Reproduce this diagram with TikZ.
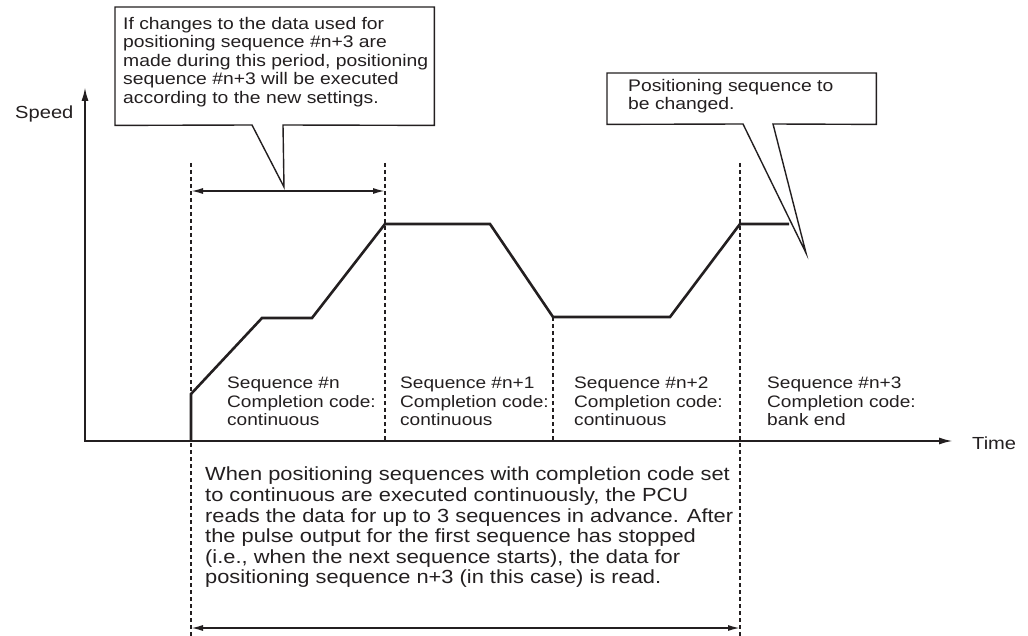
\documentclass[tikz,border=0pt]{standalone}
\usepackage{fontspec}
\setmainfont{Liberation Sans}[FakeStretch=1.15]
\usetikzlibrary{arrows.meta}
\definecolor{ink}{RGB}{35,31,32}
\begin{document}
\begin{tikzpicture}[x=1pt,y=-1pt,
  axis/.style={line width=2pt, draw=ink, line join=miter, {Latex[length=14pt,width=7pt]}-{Latex[length=14pt,width=7pt]}},
  guide/.style={line width=1.2pt, draw=ink, dash pattern=on 4pt off 3pt},
  spanarrow/.style={line width=1.6pt, draw=ink, {Latex[length=12pt,width=6pt]}-{Latex[length=12pt,width=6pt]}},
  profile/.style={line width=2.6pt, draw=ink, line join=miter},
  callout/.style={line width=1.4pt, draw=ink, fill=white, line join=miter},
  txt/.style={inner sep=0pt, anchor=north west, align=left, text=ink},
  boxnode/.style={inner sep=0pt, draw=none},
  labelfont/.style={font=\fontsize{17.5}{19}\selectfont},
  calloutfont/.style={font=\fontsize{16.8}{18.5}\selectfont},
  seqfont/.style={font=\fontsize{16.6}{18.6}\selectfont},
  parafont/.style={font=\fontsize{19}{20.6}\selectfont}]
\useasboundingbox (0,0) rectangle (1028,636);
% axes
\coordinate (O) at (85,441);
\coordinate (Ytop) at (85,87);
\coordinate (Xend) at (953,441);
\draw[axis] (Ytop) -- (O) -- (Xend);
\node[txt, labelfont] (speed) at (15,106) {Speed};
\node[txt, labelfont] (time) at (972,437) {Time};
% guide lines
\coordinate (g1t) at (191,163); \coordinate (g1b) at (191,636);
\coordinate (g2t) at (385,163); \coordinate (g2b) at (385,441);
\coordinate (g3t) at (553,317); \coordinate (g3b) at (553,441);
\coordinate (g4t) at (740,163); \coordinate (g4b) at (740,636);
\draw[guide] (g1t) -- (g1b);
\draw[guide] (g2t) -- (g2b);
\draw[guide] (g3t) -- (g3b);
\draw[guide] (g4t) -- (g4b);
% span arrows
\coordinate (s1l) at (191,191); \coordinate (s1r) at (385,191);
\coordinate (s2l) at (191,628); \coordinate (s2r) at (740,628);
\draw[spanarrow] (s1l) -- (s1r);
\draw[spanarrow] (s2l) -- (s2r);
% speed profile
\coordinate (p0) at (191,441);
\coordinate (p1) at (191,394);
\coordinate (p2) at (262,318);
\coordinate (p3) at (312,318);
\coordinate (p4) at (385,224);
\coordinate (p5) at (490,224);
\coordinate (p6) at (553,317);
\coordinate (p7) at (670,317);
\coordinate (p8) at (740,224);
\coordinate (p9) at (789,224);
\draw[profile] (p0) -- (p1) -- (p2) -- (p3) -- (p4) -- (p5) -- (p6) -- (p7) -- (p8) -- (p9);
% callout 1
\node[boxnode, minimum width=319pt, minimum height=118pt, anchor=north west] (box1) at (115,7) {};
\coordinate (c1l) at (252,125); \coordinate (c1r) at (283,125); \coordinate (tip1) at (284,187);
\draw[callout] (box1.north west) -- (box1.north east) -- (box1.south east) -- (c1r) -- (tip1) -- (c1l) -- (box1.south west) -- cycle;
\node[txt, calloutfont] (t1) at (123,17) {If changes to the data used for\\positioning sequence \#n+3 are\\made during this period, positioning\\sequence \#n+3 will be executed\\according to the new settings.};
% callout 2
\node[boxnode, minimum width=269pt, minimum height=51pt, anchor=north west] (box2) at (607,73) {};
\coordinate (c2l) at (743,124); \coordinate (c2r) at (773,124); \coordinate (tip2) at (806,253);
\draw[callout] (box2.north west) -- (box2.north east) -- (box2.south east) -- (c2r) -- (tip2) -- (c2l) -- (box2.south west) -- cycle;
\node[txt, calloutfont] (t2) at (628,79) {Positioning sequence to\\be changed.};
% sequence labels
\node[txt, seqfont] (seq0) at (227,377) {Sequence \#n\\Completion code:\\continuous};
\node[txt, seqfont] (seq1) at (400,377) {Sequence \#n+1\\Completion code:\\continuous};
\node[txt, seqfont] (seq2) at (574,377) {Sequence \#n+2\\Completion code:\\continuous};
\node[txt, seqfont] (seq3) at (767,377) {Sequence \#n+3\\Completion code:\\bank end};
% paragraph
\node[txt, parafont] (para) at (205,467) {When positioning sequences with completion code set\\to continuous are executed continuously, the PCU\\reads the data for up to 3 sequences in advance. After\\the pulse output for the first sequence has stopped\\(i.e., when the next sequence starts), the data for\\positioning sequence n+3 (in this case) is read.};
\end{tikzpicture}
\end{document}
